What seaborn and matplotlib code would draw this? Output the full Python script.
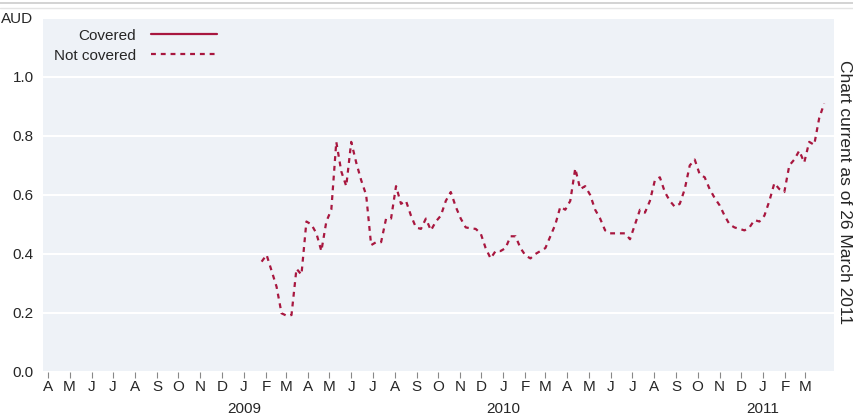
import pandas as pd
import matplotlib.pyplot as plt
from matplotlib.lines import Line2D
import seaborn as sns

# -----------------------
# Data (weekly)
# -----------------------
start_date = "2009-01-26"
not_covered = [
    0.374, 0.397, 0.343, 0.289, 0.199, 0.191, 0.193, 0.35, 0.33, 0.51,
    0.50, 0.47, 0.41, 0.51, 0.55, 0.78, 0.68, 0.63, 0.78, 0.71,
    0.65, 0.60, 0.43, 0.44, 0.44, 0.52, 0.52, 0.63, 0.57, 0.58,
    0.53, 0.49, 0.485, 0.52, 0.48, 0.51, 0.53, 0.58, 0.61, 0.56,
    0.52, 0.49, 0.487, 0.485, 0.47, 0.42, 0.385, 0.41, 0.41, 0.42,
    0.46, 0.46, 0.42, 0.395, 0.385, 0.40, 0.41, 0.42, 0.46, 0.50,
    0.56, 0.55, 0.58, 0.69, 0.62, 0.63, 0.60, 0.55, 0.52, 0.48,
    0.47, 0.47, 0.47, 0.47, 0.45, 0.50, 0.55, 0.54, 0.58, 0.65,
    0.66, 0.61, 0.58, 0.56, 0.57, 0.62, 0.70, 0.72, 0.67, 0.66,
    0.62, 0.59, 0.565, 0.53, 0.50, 0.49, 0.485, 0.48, 0.49, 0.515,
    0.51, 0.53, 0.58, 0.64, 0.62, 0.61, 0.70, 0.72, 0.75, 0.71,
    0.78, 0.77, 0.86, 0.91,
]
month_letters = ["J", "F", "M", "A", "M", "J", "J", "A", "S", "O", "N", "D"]
year_labels = ["2009", "2010", "2011"]
y_ticks = [0.0, 0.2, 0.4, 0.6, 0.8, 1.0, 1.2]
y_labels = ["0.0", "0.2", "0.4", "0.6", "0.8", "1.0", "AUD"]

df = pd.DataFrame({
    "Date": pd.date_range(start_date, periods=len(not_covered), freq="7D"),
    "Value": not_covered,
})

red = "#a8173f"
fs = 11

# -----------------------
# Style
# -----------------------
sns.set_style("darkgrid", {"axes.facecolor": "#eef2f7", "grid.color": "white"})
plt.rcParams["font.family"] = ["Liberation Sans", "DejaVu Sans"]

fig = plt.figure(figsize=(8.54, 4.16), dpi=100)
ax = fig.add_axes([0.0507, 0.1058, 0.926, 0.851])

sns.lineplot(data=df, x="Date", y="Value", ax=ax, color=red, linewidth=1.6,
             linestyle=(0, (2.2, 2.2)))

ax.set_ylim(0, 1.2)
ax.set_xlim(pd.Timestamp("2008-03-25"), pd.Timestamp("2011-04-11"))
ax.set_yticks(y_ticks)
ax.set_yticklabels(y_labels, fontsize=fs)
ax.grid(axis="x", visible=False)
ax.grid(axis="y", color="white", linewidth=1.5)
ax.set_xlabel("")
ax.set_ylabel("")
for s in ax.spines.values():
    s.set_visible(False)

# month ticks
months = pd.date_range("2008-04-01", "2011-03-01", freq="MS")
ax.set_xticks(months)
ax.set_xticklabels([month_letters[m.month - 1] for m in months], fontsize=fs)
ax.tick_params(axis="x", length=4, width=0.8, color="#888888", pad=2, bottom=True)
ax.tick_params(axis="y", length=0, pad=7)

# year labels under January
trans = ax.get_xaxis_transform()
for yl in year_labels:
    ax.text(pd.Timestamp(yl + "-01-01"), -0.105, yl, transform=trans,
            ha="center", va="center", fontsize=fs)

# legend
handles = [
    Line2D([], [], color=red, linewidth=1.6),
    Line2D([], [], color=red, linewidth=1.6, linestyle=(0, (2.2, 2.2))),
]
ax.legend(handles, ["Covered", "Not covered"], loc="upper left",
          bbox_to_anchor=(0.0, 1.0), frameon=False, markerfirst=False,
          handlelength=4.3, fontsize=fs, labelspacing=0.4,
          borderpad=0.2, handletextpad=1.0)

fig.text(0.989, 0.538, "Chart current as of 26 March 2011", rotation=-90,
         ha="center", va="center", fontsize=12.5)

# top frame lines
fig.add_artist(Line2D([0, 1], [0.992, 0.992], color="#cccccc", linewidth=1.2))
fig.add_artist(Line2D([0, 1], [0.98, 0.98], color="#e4e4e4", linewidth=1.0))

fig.savefig("out.png", dpi=100)
